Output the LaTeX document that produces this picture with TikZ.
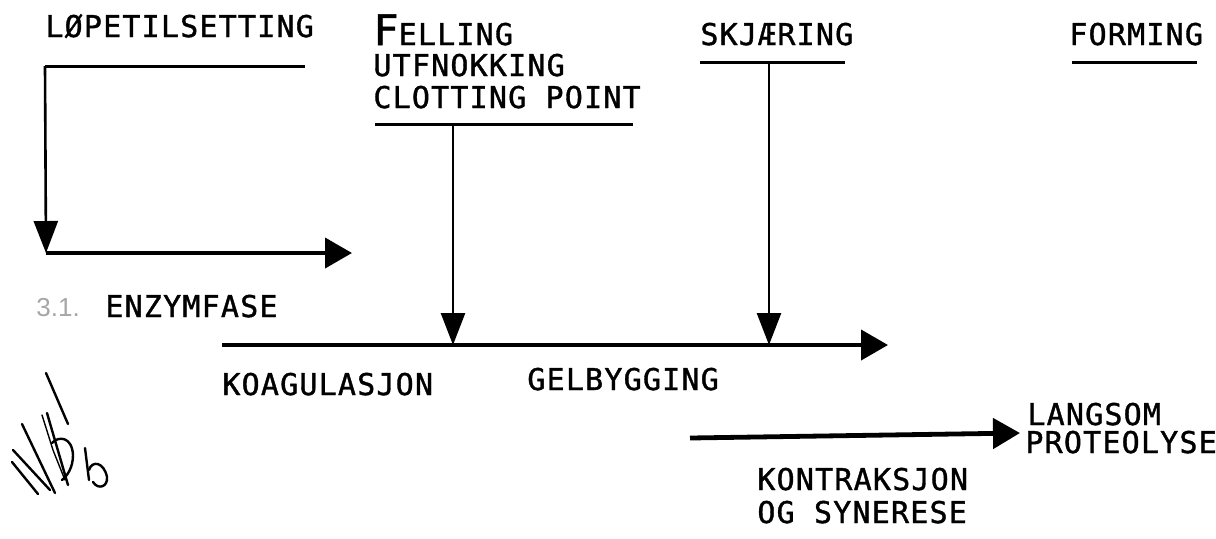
\documentclass[tikz,border=0pt]{standalone}
\usepackage{fontspec}
\usetikzlibrary{arrows.meta}
\newfontfamily\labfont[LetterSpace=4,FakeBold=1.2]{DejaVu Sans Mono}
\newfontfamily\numfont{Liberation Sans}
\begin{document}
\begin{tikzpicture}[x=0.5pt,y=-0.5pt,
  lab/.style={inner sep=0pt, anchor=base west, font={\labfont\fontsize{15pt}{17pt}\selectfont}},
  rule/.style={line width=1.5pt},
  harr/.style={line width=2pt, -{Triangle[length=13.5pt,width=15pt]}},
  darr/.style={line width=1.3pt, -{Triangle[length=16pt,width=12pt]}},
  hand/.style={line width=1.2pt, line cap=round, line join=round}]
\useasboundingbox (0,0) rectangle (1216,538);
% labels
\node[lab] (lopet) at (45,37) {LØPETILSETTING};
\node[lab] (fell1) at (373,45) {{\fontsize{21pt}{21pt}\selectfont F}ELLING};
\node[lab] (fell2) at (373,76) {UTFNOKKING};
\node[lab] (fell3) at (373,108) {CLOTTING POINT};
\node[lab] (skj) at (700,45) {SKJÆRING};
\node[lab] (form) at (1069,45) {FORMING};
\node[inner sep=0pt, anchor=base west, text=black!35, font={\numfont\fontsize{13pt}{15pt}\selectfont}] (num) at (36,316) {3.1.};
\node[lab] (enzym) at (105,317) {ENZYMFASE};
\node[lab] (koag) at (222,395) {KOAGULASJON};
\node[lab] (gel) at (527,390) {GELBYGGING};
\node[lab] (lang1) at (1027,425) {LANGSOM};
\node[lab] (lang2) at (1025,453) {PROTEOLYSE};
\node[lab] (kont1) at (757,490) {KONTRAKSJON};
\node[lab] (kont2) at (757,523) {OG SYNERESE};
% coordinates
\coordinate (u1a) at (45,66);
\coordinate (u1b) at (305,66);
\coordinate (c1) at (46,253);
\coordinate (e1) at (352,253);
\coordinate (u2a) at (375,124);
\coordinate (u2b) at (633,124);
\coordinate (t2) at (453,124);
\coordinate (m2) at (453,345);
\coordinate (u3a) at (700,62);
\coordinate (u3b) at (845,62);
\coordinate (t3) at (769,62);
\coordinate (m3) at (769,345);
\coordinate (u4a) at (1072,62);
\coordinate (u4b) at (1197,62);
\coordinate (ma) at (222,345);
\coordinate (mb) at (888,345);
\coordinate (ba) at (690,438);
\coordinate (bb) at (1020,433);
% rules
\draw[rule] (u1a) -- (u1b);
\draw[rule] (u2a) -- (u2b);
\draw[rule] (u3a) -- (u3b);
\draw[rule] (u4a) -- (u4b);
% arrows
\draw[darr] (u1a) -- (c1);
\draw[harr] (c1) -- (e1);
\draw[darr] (t2) -- (m2);
\draw[darr] (t3) -- (m3);
\draw[harr] (ma) -- (mb);
\draw[harr, line width=2.4pt] (ba) -- (bb);
% handwriting
\draw[hand] (46,373) -- (68,424);
\draw[hand] (13,450) -- (50,490);
\draw[hand] (12,462) -- (38,494);
\draw[hand] (22,424) -- (55,493);
\draw[hand] (47,413) -- (68,485);
\draw[hand, line width=0.7pt] (42,415) -- (53,450) -- (65,480);
\draw[hand] (52,443) .. controls (58,436) and (72,436) .. (73,455) .. controls (73,468) and (67,476) .. (62,480);
\draw[hand] (85,448) -- (89,480);
\draw[hand] (89,470) .. controls (92,460) and (104,462) .. (107,477) .. controls (108,487) and (98,490) .. (93,482);
\end{tikzpicture}
\end{document}
